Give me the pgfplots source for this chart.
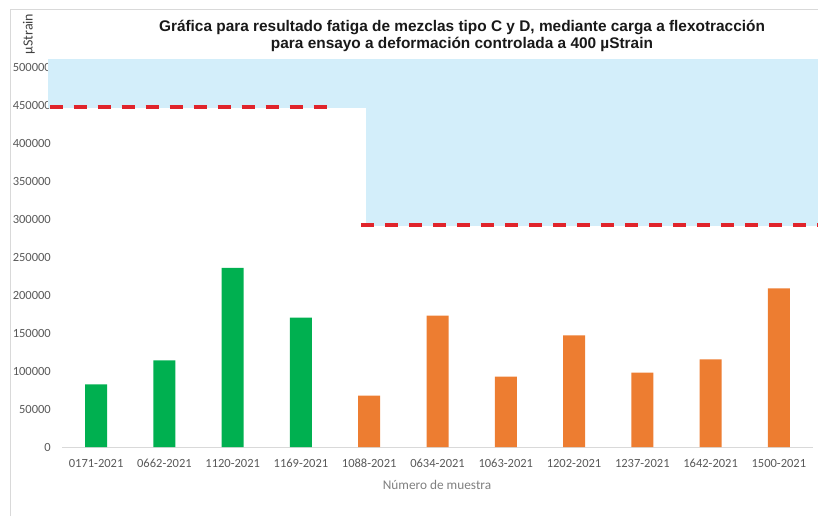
\documentclass[border=0pt]{standalone}
\usepackage{pgfplots}
\pgfplotsset{compat=1.18}
\usepackage{fontspec}
\setmainfont{Carlito}
\newfontfamily\titlefont{Liberation Sans}
\definecolor{cgreen}{HTML}{00B050}
\definecolor{corange}{HTML}{ED7D31}
\definecolor{cblue}{HTML}{D3EEFA}
\definecolor{cred}{HTML}{E0242B}
\definecolor{tickgray}{HTML}{595959}
\definecolor{labgray}{HTML}{7F7F7F}
\definecolor{axgray}{HTML}{D9D9D9}
\begin{document}
\begin{tikzpicture}[x=1pt,y=1pt]
\useasboundingbox (0,0) rectangle (818,516);
\draw[axgray, line width=0.8pt] (10,0) -- (10,507) -- (818,507);
\begin{axis}[
  at={(62pt,69pt)}, anchor=south west,
  scale only axis, width=751pt, height=387.6pt,
  xmin=-0.5, xmax=10.5, ymin=0, ymax=510000,
  clip=false,
  axis x line*=bottom, axis y line*=left,
  x axis line style={axgray, line width=0.8pt, -},
  y axis line style={draw=none},
  xtick={0,...,10},
  xticklabels={0171-2021,0662-2021,1120-2021,1169-2021,1088-2021,0634-2021,1063-2021,1202-2021,1237-2021,1642-2021,1500-2021},
  ytick={0,50000,...,500000},
  scaled y ticks=false,
  major tick length=0pt,
  tick style={draw=none},
  /pgf/number format/assume math mode=true,
  yticklabel={\pgfmathprintnumber[fixed,1000 sep={}]{\tick}},
  yticklabel style={font=\fontsize{12.5}{14}\selectfont, text=tickgray, anchor=east, inner sep=0pt, xshift=-11pt},
  xticklabel style={font=\fontsize{12.5}{14}\selectfont, text=tickgray, anchor=north, inner sep=0pt, yshift=-12pt},
]
\addplot[fill=cblue, draw=none] coordinates {(-0.71,446000) (3.95,446000) (3.95,510000) (-0.71,510000)} -- cycle;
\addplot[fill=cblue, draw=none] coordinates {(3.95,291000) (10.58,291000) (10.58,510000) (3.95,510000)} -- cycle;
\addplot[cred, line width=3.8pt, dash pattern=on 13pt off 11pt] coordinates {(-0.68,447500) (3.39,447500)};
\addplot[cred, line width=3.8pt, dash pattern=on 13pt off 11pt] coordinates {(3.88,292500) (10.58,292500)};
\addplot[ybar, bar width=22pt, bar shift=0pt, fill=cgreen, draw=none] coordinates {(0,82500) (1,114100) (2,235600) (3,170200)};
\addplot[ybar, bar width=22pt, bar shift=0pt, fill=corange, draw=none] coordinates {(4,67500) (5,172800) (6,92600) (7,147000) (8,97800) (9,115400) (10,208800)};
\end{axis}
\node[font=\fontsize{13.3}{16}\selectfont, text=labgray] at (437,31) {Número de muestra};
\node[font=\fontsize{14}{16}\selectfont, text=black!75, rotate=90] at (29,482) {µStrain};
\node[font=\titlefont\bfseries\fontsize{15.4}{17.2}\selectfont, text=black!90, align=center] at (462,480) {Gráfica para resultado fatiga de mezclas tipo C y D, mediante carga a flexotracción\\para ensayo a deformación controlada a 400 µStrain};
\end{tikzpicture}
\end{document}
